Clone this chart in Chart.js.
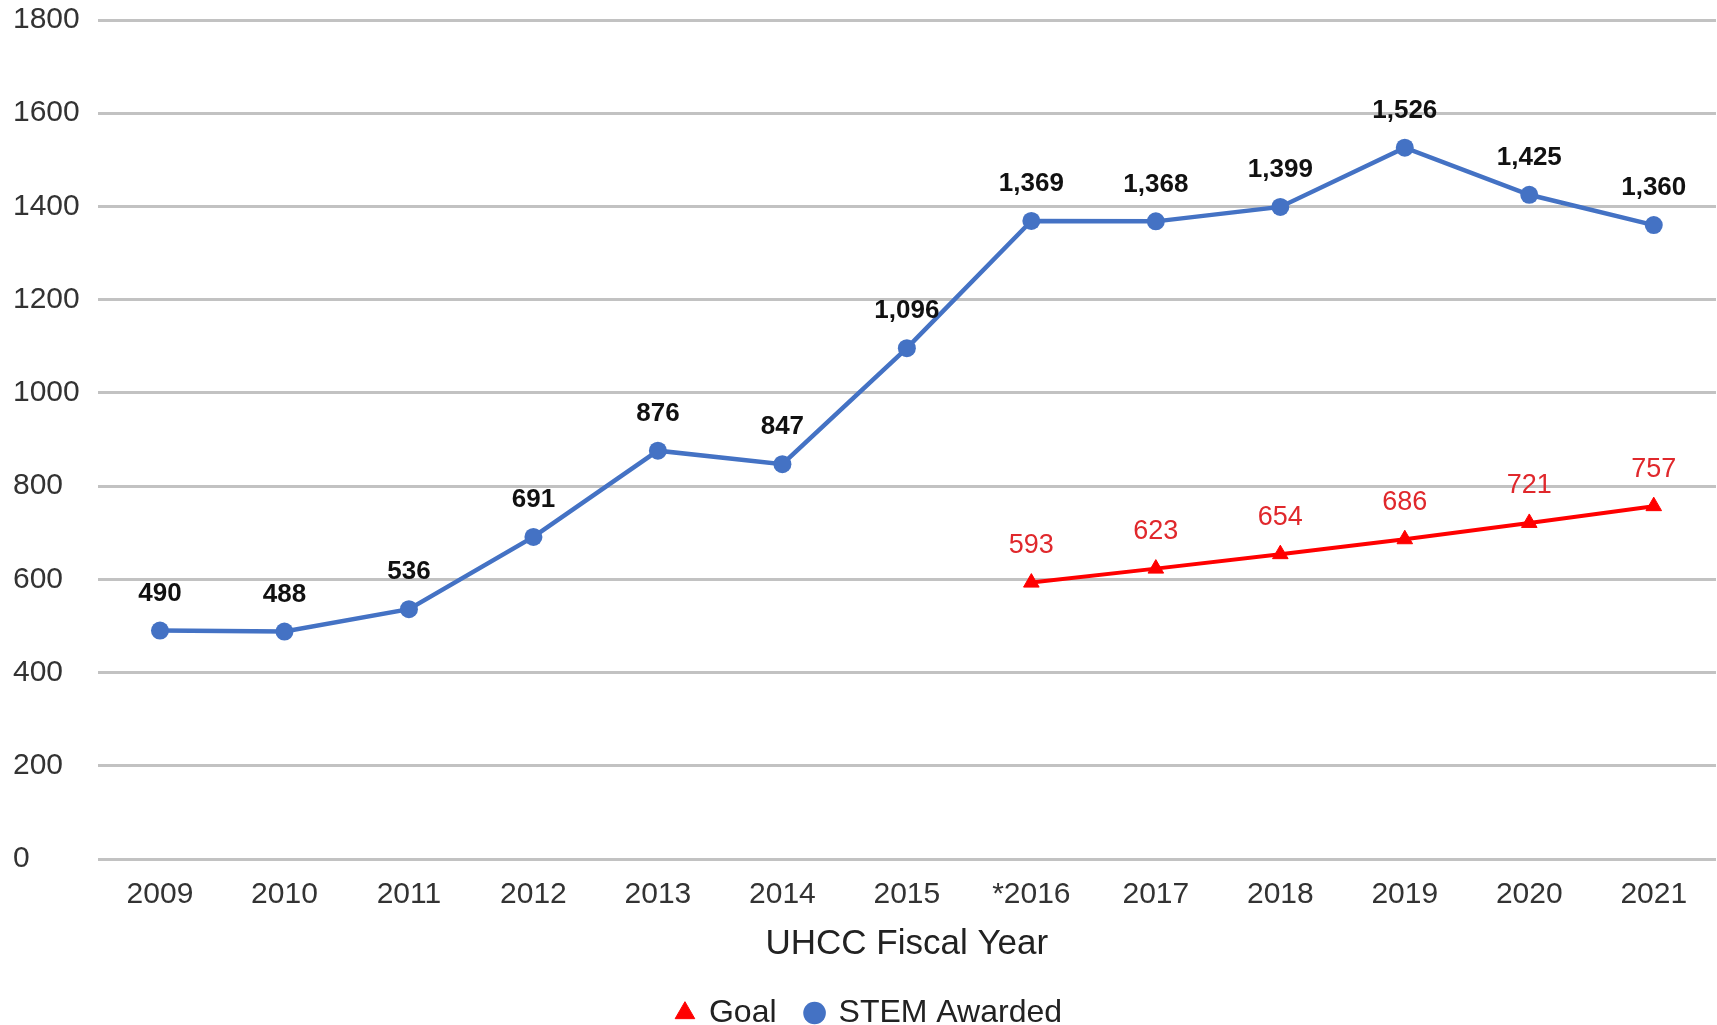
<!DOCTYPE html>
<html>
<head>
<meta charset="utf-8">
<title>UHCC STEM Awarded</title>
<script src="https://cdn.jsdelivr.net/npm/chart.js@4.4.1/dist/chart.umd.min.js"></script>
<style>
  html, body { margin: 0; padding: 0; background: #fff; overflow: hidden; }
  /* a little wider than the window so the plot runs off the right edge like the original */
  #wrap { width: 1726px; height: 1025px; }
  canvas { display: block; }
</style>
</head>
<body>
<div id="wrap"><canvas id="stemChart" width="1726" height="1025"></canvas></div>
<script>
// fiscal years on the x axis
var fiscalYears = ["2009", "2010", "2011", "2012", "2013", "2014", "2015", "*2016", "2017", "2018", "2019", "2020", "2021"];

// STEM degrees awarded per year
var stemAwarded = [490, 488, 536, 691, 876, 847, 1096, 1369, 1368, 1399, 1526, 1425, 1360];

// goal line starts in 2016
var goalValues = [null, null, null, null, null, null, null, 593, 623, 654, 686, 721, 757];

// y axis range
var yMin = 0;
var yMax = 1800;
var yStep = 200;

var fontFam = "'Liberation Sans', Arial, sans-serif";

// draws the number above every point
var pointLabels = {
  id: 'pointLabels',
  afterDatasetsDraw: function(chart) {
    var ctx = chart.ctx;
    chart.data.datasets.forEach(function(ds, i) {
      var meta = chart.getDatasetMeta(i);
      if (meta.hidden) return;
      meta.data.forEach(function(pt, j) {
        var v = ds.data[j];
        if (v === null || v === undefined) return;
        ctx.save();
        ctx.textAlign = 'center';
        ctx.textBaseline = 'middle';
        ctx.font = ds.labelFont;
        ctx.fillStyle = ds.labelColor;
        var txt = ds.useCommas ? v.toLocaleString('en-US') : String(v);
        ctx.fillText(txt, pt.x, pt.y - 37);
        ctx.restore();
      });
    });
  }
};

var ctx = document.getElementById('stemChart').getContext('2d');

var stemChart = new Chart(ctx, {
  type: 'line',
  data: {
    labels: fiscalYears,
    datasets: [
      {
        label: 'Goal',
        data: goalValues,
        borderColor: '#ff0000',
        backgroundColor: '#ff0000',
        borderWidth: 4,
        pointStyle: 'triangle',
        pointRadius: 9,
        pointBorderWidth: 1,
        tension: 0,
        spanGaps: false,
        labelFont: "27px " + fontFam,
        labelColor: '#e0282c',
        useCommas: false
      },
      {
        label: 'STEM Awarded',
        data: stemAwarded,
        borderColor: '#4472c4',
        backgroundColor: '#4472c4',
        borderWidth: 4.5,
        pointStyle: 'circle',
        pointRadius: 9,
        pointBorderWidth: 0,
        tension: 0,
        labelFont: "bold 26px " + fontFam,
        labelColor: '#111',
        useCommas: true
      }
    ]
  },
  options: {
    responsive: false,
    animation: false,
    devicePixelRatio: 1,
    layout: {
      padding: { left: 13, right: 0, top: 20, bottom: -14 }
    },
    plugins: {
      tooltip: { enabled: false },
      legend: {
        position: 'bottom',
        labels: {
          usePointStyle: true,
          boxWidth: 16,
          boxHeight: 16,
          padding: 30,
          color: '#222',
          font: { family: fontFam, size: 32 }
        }
      }
    },
    scales: {
      x: {
        offset: true,
        grid: { display: false },
        border: { display: false },
        ticks: {
          color: '#333',
          padding: 10,
          maxRotation: 0,
          font: { family: fontFam, size: 30 }
        },
        title: {
          display: true,
          text: 'UHCC Fiscal Year',
          color: '#222',
          padding: { top: 0, bottom: 2 },
          font: { family: fontFam, size: 35 }
        }
      },
      y: {
        min: yMin,
        max: yMax,
        border: { display: false },
        // top label may hang over the edge, as in the original
        afterFit: function(scale) { scale.paddingTop = 0; },
        grid: {
          color: '#c2c2c2',
          lineWidth: 3,
          drawTicks: false
        },
        ticks: {
          stepSize: yStep,
          crossAlign: 'far',
          padding: 9,
          color: '#333',
          font: { family: fontFam, size: 30 },
          callback: function(value) { return String(value); }
        }
      }
    }
  },
  plugins: [pointLabels]
});
</script>
</body>
</html>
